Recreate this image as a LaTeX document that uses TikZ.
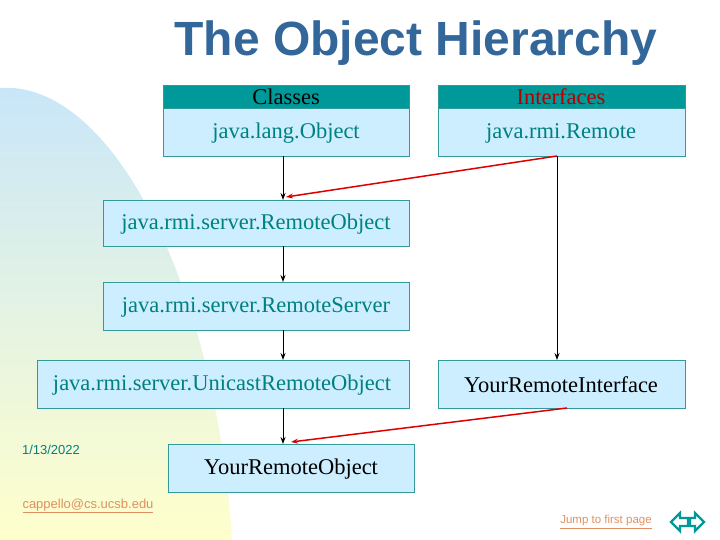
\documentclass[tikz,border=0pt]{standalone}
\usepackage{fontspec}
\setmainfont{Liberation Serif}
\newfontfamily\arialf{Liberation Sans}
\usetikzlibrary{arrows.meta}
\definecolor{boxfill}{HTML}{CCEEFF}
\definecolor{boxline}{HTML}{339999}
\definecolor{hdr}{HTML}{009999}
\definecolor{tealtxt}{HTML}{008080}
\definecolor{titleblue}{HTML}{336699}
\definecolor{redarr}{HTML}{DD0000}
\definecolor{linkc}{HTML}{E09060}
\definecolor{blobtop}{HTML}{C8E6FA}
\definecolor{blobbot}{HTML}{FFFFCC}
\begin{document}
\begin{tikzpicture}[x=1pt,y=-1pt,
  bx/.style={draw=boxline,fill=boxfill,line width=0.8pt},
  hd/.style={fill=hdr},
  lbl/.style={font=\fontsize{22.5}{24}\selectfont,inner sep=0},
  blk/.style={-{Stealth[length=7pt,width=5pt]},line width=1pt},
  red/.style={-{Stealth[length=7pt,width=5pt]},draw=redarr,line width=1.5pt}]
\useasboundingbox (0,0) rectangle (720,540);
\shade[top color=blobtop,bottom color=blobbot,middle color=blobtop!50!blobbot] (0,88) .. controls (110,80) and (215,280) .. (232,540) -- (0,540) -- cycle;
\node[font=\arialf\bfseries\fontsize{48}{52}\selectfont,text=titleblue,inner sep=0] (title) at (416,43) {The Object Hierarchy};
% boxes
\fill[hd] (163,85) rectangle (409,108);
\draw[bx] (163,108) rectangle (409,156);
\draw[boxline] (163,85) rectangle (409,156);
\fill[hd] (438,85) rectangle (685,108);
\draw[bx] (438,108) rectangle (685,156);
\draw[boxline] (438,85) rectangle (685,156);
\node[lbl] (cls) at (286,97) {Classes};
\node[lbl,text=redarr!80!black] (ifc) at (561,97) {Interfaces};
\node[lbl,text=tealtxt] (obj) at (286,133) {java.lang.Object};
\node[lbl,text=tealtxt] (rem) at (561,133) {java.rmi.Remote};
\draw[bx] (103,200) rectangle (409,246);
\node[lbl,text=tealtxt] (ro) at (256,224) {java.rmi.server.RemoteObject};
\draw[bx] (103,282) rectangle (409,330);
\node[lbl,text=tealtxt] (rs) at (256,307) {java.rmi.server.RemoteServer};
\draw[bx] (37,360) rectangle (409,408);
\node[lbl,text=tealtxt] (uro) at (222,385) {java.rmi.server.UnicastRemoteObject};
\draw[bx] (438,360) rectangle (685,408);
\node[lbl] (yri) at (561,385) {YourRemoteInterface};
\draw[bx] (168,444) rectangle (414,492);
\node[lbl] (yro) at (291,469) {YourRemoteObject};
% connectors
\coordinate (a1) at (283,156); \coordinate (a2) at (283,200);
\coordinate (b1) at (283,246); \coordinate (b2) at (283,282);
\coordinate (c1) at (283,330); \coordinate (c2) at (283,360);
\coordinate (d1) at (283,408); \coordinate (d2) at (283,444);
\coordinate (e1) at (557,156); \coordinate (e2) at (557,360);
\coordinate (f2) at (286,197); \coordinate (g1) at (567,408); \coordinate (g2) at (291,442);
\draw[blk] (a1) -- (a2);
\draw[blk] (b1) -- (b2);
\draw[blk] (c1) -- (c2);
\draw[blk] (d1) -- (d2);
\draw[blk] (e1) -- (e2);
\draw[red] (e1) -- (f2);
\draw[red] (g1) -- (g2);
% footer
\node[font=\arialf\fontsize{13}{15}\selectfont,text=tealtxt,inner sep=0] (date) at (51,450) {1/13/2022};
\node[font=\arialf\fontsize{13}{15}\selectfont,text=linkc,inner sep=0] (mail) at (88,506) {\underline{cappello@cs.ucsb.edu}};
\node[font=\arialf\fontsize{11.5}{13}\selectfont,text=linkc,inner sep=0] (jump) at (606,522) {\underline{Jump to first page}};
\draw[hdr,line width=2.2pt,line join=miter] (671,522) -- (680,513) -- (680,518) -- (688,518) -- (688,526) -- (680,526) -- (680,531) -- cycle;
\draw[hdr,line width=2.2pt,line join=miter] (704,522) -- (695,513) -- (695,518) -- (690,518) -- (690,526) -- (695,526) -- (695,531) -- cycle;
\end{tikzpicture}
\end{document}
